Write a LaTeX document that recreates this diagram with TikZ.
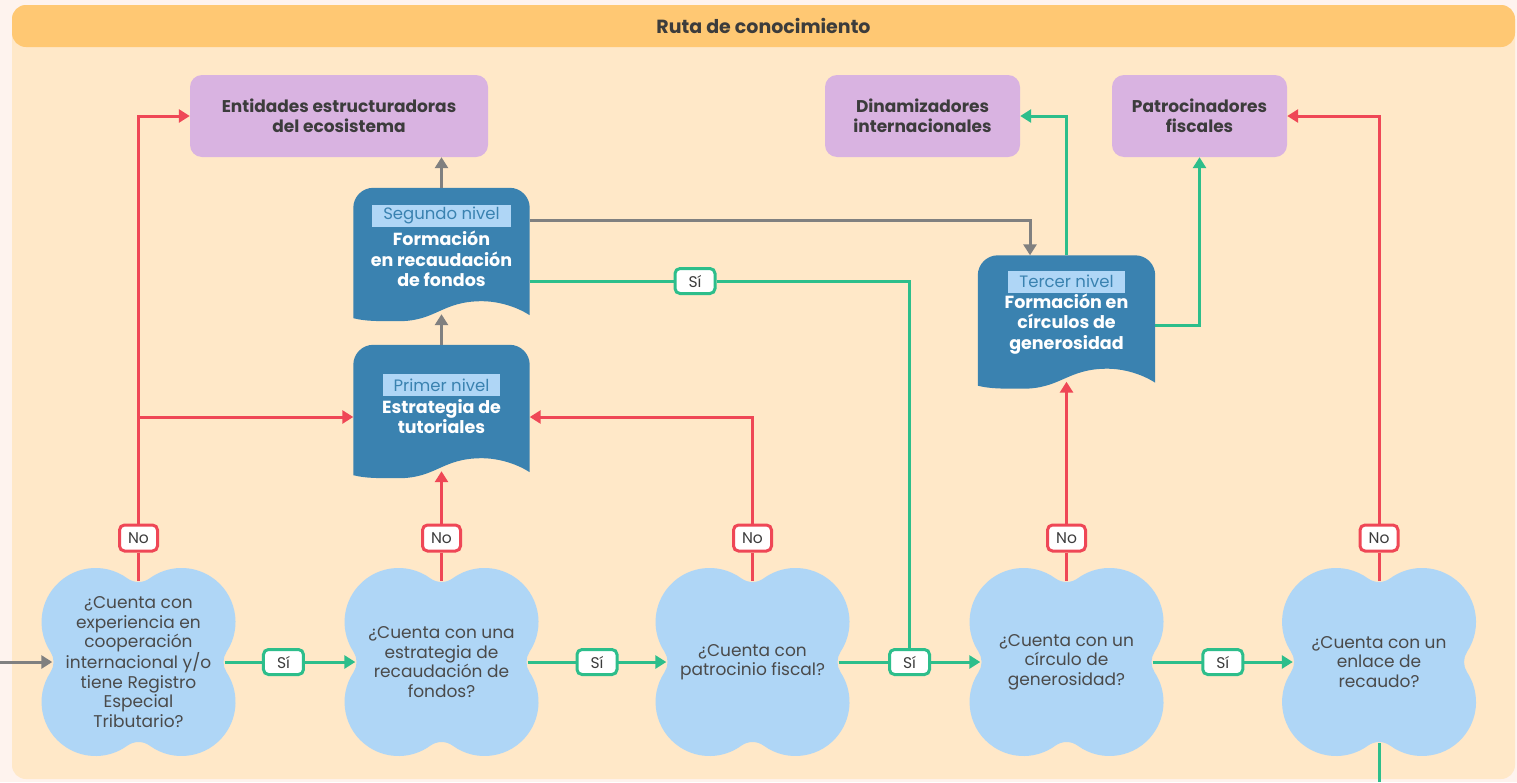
\documentclass[tikz,border=0pt]{standalone}
\usepackage{fontspec}
\setmainfont{Poppins}
\usetikzlibrary{arrows.meta,backgrounds,calc}
\definecolor{outerbg}{HTML}{FEF3EE}
\definecolor{panelbg}{HTML}{FFE8C8}
\definecolor{headerbg}{HTML}{FFC873}
\definecolor{purplebox}{HTML}{D9B3E1}
\definecolor{docblue}{HTML}{3A82B0}
\definecolor{lightblue}{HTML}{AFD6F6}
\definecolor{darktext}{HTML}{3C3C3C}
\definecolor{cloudtext}{HTML}{4A4A4A}
\definecolor{redline}{HTML}{EF4756}
\definecolor{greenline}{HTML}{2DBE8B}
\definecolor{grayline}{HTML}{808080}
\newcommand\docshape[1]{%
  \fill[docblue] ([yshift=3pt]#1.south west) -- ([yshift=-20pt]#1.north west)
    arc[start angle=180,end angle=90,radius=20pt] -- ([xshift=-20pt]#1.north east)
    arc[start angle=90,end angle=0,radius=20pt] -- ([yshift=6pt]#1.south east)
    .. controls +(-14pt,9pt) and +(16pt,0pt) .. ([xshift=-48pt,yshift=20pt]#1.south east)
    .. controls +(-40pt,0pt) and +(38pt,0pt) .. ([xshift=45pt]#1.south west)
    .. controls +(-22pt,0pt) and +(12pt,-3pt) .. ([yshift=3pt]#1.south west) -- cycle;}
\newcommand\cloudshape[1]{%
  \begin{scope}[shift={(#1.center)}, x=1pt, y=1pt]
  \fill[lightblue] (88.1,10.3)
    arc[start angle=-33.4, end angle=126.1, radius=54pt]
    arc[start angle=-54, end angle=-126, radius=19pt]
    arc[start angle=53.9, end angle=213.4, radius=54pt]
    arc[start angle=33.4, end angle=-33.4, radius=18.7pt]
    arc[start angle=146.6, end angle=306.1, radius=54pt]
    arc[start angle=126, end angle=54, radius=19pt]
    arc[start angle=233.9, end angle=393.4, radius=54pt]
    arc[start angle=213.4, end angle=146.6, radius=18.7pt] -- cycle;
  \end{scope}}
\begin{document}
\begin{tikzpicture}[x=1pt,y=-1pt,
  header/.style={fill=headerbg, rounded corners=14pt, minimum width=1503pt, minimum height=42pt,
    font=\bfseries\fontsize{19}{22}\selectfont, text=darktext},
  target/.style={fill=purplebox, rounded corners=12pt, minimum height=82pt, align=center,
    inner sep=0pt, font=\bfseries\fontsize{17}{20.5}\selectfont, text=darktext},
  cloudtxt/.style={minimum width=172pt, minimum height=162pt, align=center, inner sep=0pt,
    font=\fontsize{17}{19.4}\selectfont, text=cloudtext},
  docbox/.style={minimum width=176pt, minimum height=133pt, inner sep=0pt},
  lvl/.style={fill=lightblue, text=docblue, font=\fontsize{16.5}{18}\selectfont,
    inner xsep=11pt, inner ysep=0pt, minimum height=22pt},
  doctitle/.style={text=white, align=center, inner sep=0pt, font=\bfseries\fontsize{17.5}{20.3}\selectfont},
  nolbl/.style={fill=white, draw=redline, line width=3pt, rounded corners=5pt, minimum width=38pt,
    minimum height=26pt, inner sep=0pt, font=\fontsize{15.5}{17}\selectfont, text=darktext},
  silbl/.style={fill=white, draw=greenline, line width=3pt, rounded corners=5pt, minimum width=40pt,
    minimum height=25pt, inner sep=0pt, font=\fontsize{15.5}{17}\selectfont, text=darktext},
  rline/.style={draw=redline, line width=3pt},
  gline/.style={draw=greenline, line width=3pt},
  kline/.style={draw=grayline, line width=3pt},
  rarr/.style={rline, -{Triangle[length=11pt,width=13pt]}},
  garr/.style={gline, -{Triangle[length=11pt,width=13pt]}},
  karr/.style={kline, -{Triangle[length=11pt,width=13pt]}}
]
\useasboundingbox (0,0) rectangle (1517,782);
\begin{scope}[on background layer]
  \fill[outerbg] (0,0) rectangle (1517,782);
  \fill[panelbg, rounded corners=14pt] (12,5) rectangle (1515,779);
\end{scope}

\node[header] (H) at (763.5,26) {Ruta de conocimiento};

% targets
\node[target, minimum width=298pt] (E) at (339,116) {Entidades estructuradoras\\del ecosistema};
\node[target, minimum width=195pt] (D) at (922.5,116) {Dinamizadores\\internacionales};
\node[target, minimum width=175pt] (Pf) at (1199.5,116) {Patrocinadores\\fiscales};

% documents
\node[docbox] (P) at (441.5,411.5) {};
\node[docbox] (S) at (441.5,254.5) {};
\node[docbox, minimum width=177pt] (T) at (1066.5,322) {};
\begin{scope}[on background layer]
  \docshape{P}\docshape{S}\docshape{T}
\end{scope}
\node[lvl] (Pl) at (441.5,385) {Primer nivel};
\node[doctitle] (Pt) at (441.5,416.5) {Estrategia de\\tutoriales};
\node[lvl] (Sl) at (441.5,215.5) {Segundo nivel};
\node[doctitle] (St) at (441.5,259) {Formación\\en recaudación\\de fondos};
\node[lvl] (Tl) at (1066.5,281.5) {Tercer nivel};
\node[doctitle] (Tt) at (1066.5,324) {Formación en\\círculos de\\generosidad};

% clouds
\node[cloudtxt] (c1) at (138.5,662) {¿Cuenta con\\experiencia en\\cooperación\\internacional y/o\\tiene Registro\\Especial\\Tributario?};
\node[cloudtxt] (c2) at (441.5,662) {¿Cuenta con una\\estrategia de\\recaudación de\\fondos?};
\node[cloudtxt] (c3) at (752.5,662) {¿Cuenta con\\patrocinio fiscal?};
\node[cloudtxt] (c4) at (1066.5,662) {¿Cuenta con un\\círculo de\\generosidad?};
\node[cloudtxt] (c5) at (1379,662) {¿Cuenta con un\\enlace de\\recaudo?};
\begin{scope}[on background layer]
  \cloudshape{c1}\cloudshape{c2}\cloudshape{c3}\cloudshape{c4}\cloudshape{c5}
\end{scope}

% No labels
\node[nolbl] (n1) at (138.5,538) {No};
\node[nolbl] (n2) at (441.5,538) {No};
\node[nolbl] (n3) at (752.5,538) {No};
\node[nolbl] (n4) at (1066.5,538) {No};
\node[nolbl] (n5) at (1379,538) {No};

\coordinate (in) at (0,662);
\coordinate (out) at (1379,782);
\coordinate (j1) at (138.5,417);

% entry
\draw[karr] (in) -- (c1);

% Si chain
\draw[garr] (c1) -- node[silbl, pos=0.45] (s1) {Sí} (c2);
\draw[garr] (c2) -- node[silbl] (s2) {Sí} (c3);
\draw[garr] (c3) -- node[silbl] (s3) {Sí} (c4);
\draw[garr] (c4) -- node[silbl] (s4) {Sí} (c5);
\draw[gline] (c5) -- (out);

% No branches
\draw[rline] (c1) -- (n1);
\draw[rarr] (n1) |- (E);
\draw[rarr] (j1) -- (P.west |- j1);
\draw[rline] (c2) -- (n2);
\draw[rarr] (n2) -- ([yshift=7pt]P.south);
\draw[rline] (c3) -- (n3);
\draw[rarr] (n3) |- (P.east |- j1);
\draw[rline] (c4) -- (n4);
\draw[rarr] (n4) -- ([yshift=7pt]T.south);
\draw[rline] (c5) -- (n5);
\draw[rarr] (n5) |- (Pf);

% gray levels
\draw[karr] (P) -- ([yshift=7pt]S.south);
\draw[karr] (S) -- (S.north |- E.south);
\draw[karr] ([yshift=34.5pt]S.east) -| ([xshift=-36.5pt]T.north);

% green from levels
\node[silbl] (s5) at (695,281) {Sí};
\draw[gline] ([yshift=-26.5pt]S.east) -- (s5);
\draw[gline] (s5) -| (s3);
\draw[garr] (T) |- (D);
\draw[garr] ([yshift=-3pt]T.east) -| (Pf);
\end{tikzpicture}
\end{document}
